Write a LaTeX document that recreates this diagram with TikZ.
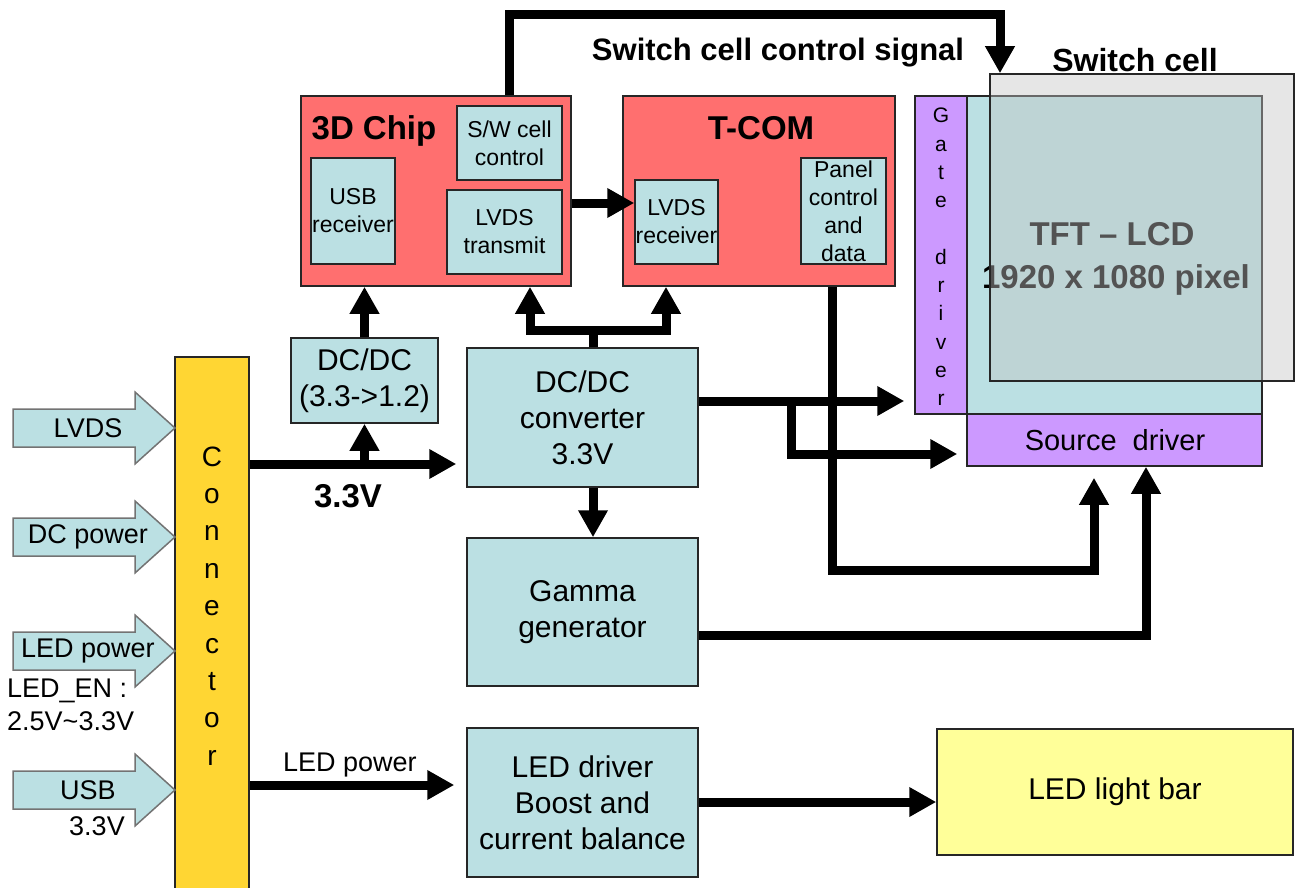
\documentclass[tikz,border=0pt]{standalone}
\usepackage{fontspec}
\setmainfont{Liberation Sans}
\usetikzlibrary{arrows.meta,calc}
\definecolor{chipred}{HTML}{FF6F6F}
\definecolor{lblue}{HTML}{BBE0E3}
\definecolor{lpurple}{HTML}{CC99FF}
\definecolor{cyellow}{HTML}{FFD633}
\definecolor{lyellow}{HTML}{FFFF99}
\definecolor{scgray}{RGB}{196,196,196}
\begin{document}
\begin{tikzpicture}[x=1pt,y=-1pt,
  base/.style={draw=black!85, line width=1.5pt, inner sep=0pt, align=center},
  bigbox/.style={base, fill=lblue, font=\fontsize{30}{36}\selectfont},
  smallbox/.style={base, fill=lblue, font=\fontsize{23}{28}\selectfont},
  redbox/.style={base, fill=chipred},
  purplebox/.style={base, fill=lpurple},
  title/.style={inner sep=0pt, anchor=base, font=\fontsize{33}{38}\selectfont\bfseries},
  lbl/.style={inner sep=0pt, font=\fontsize{27}{32}\selectfont},
  inarrow/.style={draw=black!55, line width=1.5pt, fill=lblue, line join=miter},
  conn/.style={line width=9pt, -{Triangle[width=28pt,length=27pt]}},
]
\useasboundingbox (0,0) rectangle (1296,888);

% ---- 3D chip ----
\node[redbox, minimum width=270pt, minimum height=190pt] (chip3d) at (436,191) {};
\node[title] (chiptitle) at (374,140) {3D Chip};
\node[smallbox, minimum width=105pt, minimum height=74pt] (swc) at (509.5,143) {S/W cell\\control};
\node[smallbox, minimum width=84pt, minimum height=106pt] (usbr) at (353,211) {USB\\receiver};
\node[smallbox, minimum width=115pt, minimum height=84pt] (lvdst) at (504.5,232) {LVDS\\transmit};

% ---- T-COM ----
\node[redbox, minimum width=272pt, minimum height=190pt] (tcom) at (759,191) {};
\node[title] (tcomtitle) at (761,140) {T-COM};
\node[smallbox, minimum width=83pt, minimum height=84pt] (lvdsr) at (676.5,222) {LVDS\\receiver};
\node[smallbox, minimum width=85pt, minimum height=106pt] (panel) at (843.5,211) {Panel\\control\\and\\data};

% ---- power blocks ----
\node[bigbox, minimum width=147pt, minimum height=85pt] (dcsmall) at (364.5,380.5) {DC/DC\\(3.3->1.2)};
\node[bigbox, minimum width=231pt, minimum height=139pt] (dcconv) at (582.5,417.5) {DC/DC\\converter\\3.3V};
\node[bigbox, minimum width=231pt, minimum height=148pt] (gamma) at (582.5,612) {Gamma\\generator};
\node[bigbox, minimum width=231pt, minimum height=149pt] (leddrv) at (582.5,802.5) {LED driver\\Boost and\\current balance};
\node[bigbox, fill=lyellow, minimum width=356pt, minimum height=126pt] (ledbar) at (1115,792) {LED light bar};

% ---- connector ----
\node[base, fill=cyellow, minimum width=74pt, minimum height=535pt] (conn) at (212,624.5) {};
\node[inner sep=0pt, align=center, font=\fontsize{28}{37.4}\selectfont] (conntext) at (212,606) {C\\o\\n\\n\\e\\c\\t\\o\\r};

% ---- panel ----
\node[base, fill=lblue, minimum width=295pt, minimum height=318pt] (tft) at (1114.5,255) {};
\node[purplebox, minimum width=52pt, minimum height=318pt] (gate) at (941,255) {};
\node[inner sep=0pt, align=center, font=\fontsize{21}{28.3}\selectfont] (gatetext) at (941,257) {G\\a\\t\\e\\\strut\\d\\r\\i\\v\\e\\r};
\node[purplebox, minimum width=295pt, minimum height=52pt] (src) at (1114.5,440) {};
\node[inner sep=0pt, anchor=base, font=\fontsize{29}{34}\selectfont] (srctext) at (1115,450) {Source\ \ driver};
\node[title] (tfttext) at (1112,245) {TFT -- LCD};
\node[title] (pixtext) at (1116,288) {1920 x 1080 pixel};
\node[draw=black!85, line width=1.5pt, fill=scgray, fill opacity=0.425, draw opacity=1, inner sep=0pt, minimum width=304pt, minimum height=307pt] (swcell) at (1142,227.5) {};
\node[title, font=\fontsize{32}{38}\selectfont\bfseries] (swcelltext) at (1135,72) {Switch cell};
\node[title, font=\fontsize{31}{38}\selectfont\bfseries] (sigtext) at (778,61) {Switch cell control signal};

% ---- input block arrows ----
\foreach \n/\y/\t in {ia/428/LVDS, ib/537/DC power, ic/651/LED power, id/790/USB} {
  \draw[inarrow] (13,{\y-19}) -- (135,{\y-19}) -- (135,{\y-36}) -- (175,\y) -- (135,{\y+36}) -- (135,{\y+19}) -- (13,{\y+19}) -- cycle;
  \node[lbl] (\n) at (88,\y) {\t};
}
\node[lbl, anchor=west] (ledentext) at (7,691) {LED\_EN :};
\node[lbl, anchor=west] (ledvtext) at (7,721) {2.5V\textasciitilde3.3V};
\node[lbl] (usbv) at (97,826) {3.3V};

% ---- connectors ----
\coordinate (s1) at (509,15);
\coordinate (s2) at (1000,15);
\draw[conn] (s1 |- chip3d.north) -- (s1) -- (s2) -- (s2 |- swcell.north);

\coordinate (lv) at (0,203);
\draw[conn] (chip3d.east |- lv) -- (lvdsr.west |- lv);

\draw[conn] (dcsmall.north) -- (dcsmall.north |- chip3d.south);

\coordinate (v33) at (0,464);
\draw[conn, shorten >=10pt] (conn.east |- v33) -- (dcconv.west |- v33);
\draw[conn] (dcsmall.south |- v33) -- (dcsmall.south);
\node[title] (v33text) at (348,507) {3.3V};

\coordinate (j) at (593,330);
\coordinate (ja) at (530,330);
\coordinate (jb) at (666,330);
\draw[conn] (dcconv.north -| j) -- (j) -- (ja) -- (ja |- chip3d.south);
\draw[conn] (dcconv.north -| j) -- (j) -- (jb) -- (jb |- tcom.south);
\draw[conn] (dcconv.south -| j) -- (gamma.north -| j);

\coordinate (r1) at (0,401);
\draw[conn, shorten >=10pt] (dcconv.east |- r1) -- (gate.west |- r1);
\coordinate (r2) at (791,401);
\coordinate (r3) at (791,454);
\draw[conn, shorten >=9pt] (r2) -- (r3) -- (src.west |- r3);

\coordinate (t1) at (832,570);
\coordinate (t2) at (1094,570);
\draw[conn, shorten >=11pt] (tcom.south -| t1) -- (t1) -- (t2) -- (t2 |- src.south);

\coordinate (g1) at (1146,635);
\draw[conn] (gamma.east |- g1) -- (g1) -- (g1 |- src.south);

\coordinate (lp) at (0,785);
\draw[conn, shorten >=12pt] (conn.east |- lp) -- (leddrv.west |- lp);
\node[lbl] (lptext) at (350,765) {LED power};

\coordinate (lb) at (0,802);
\draw[conn] (leddrv.east |- lb) -- (ledbar.west |- lb);
\end{tikzpicture}
\end{document}
